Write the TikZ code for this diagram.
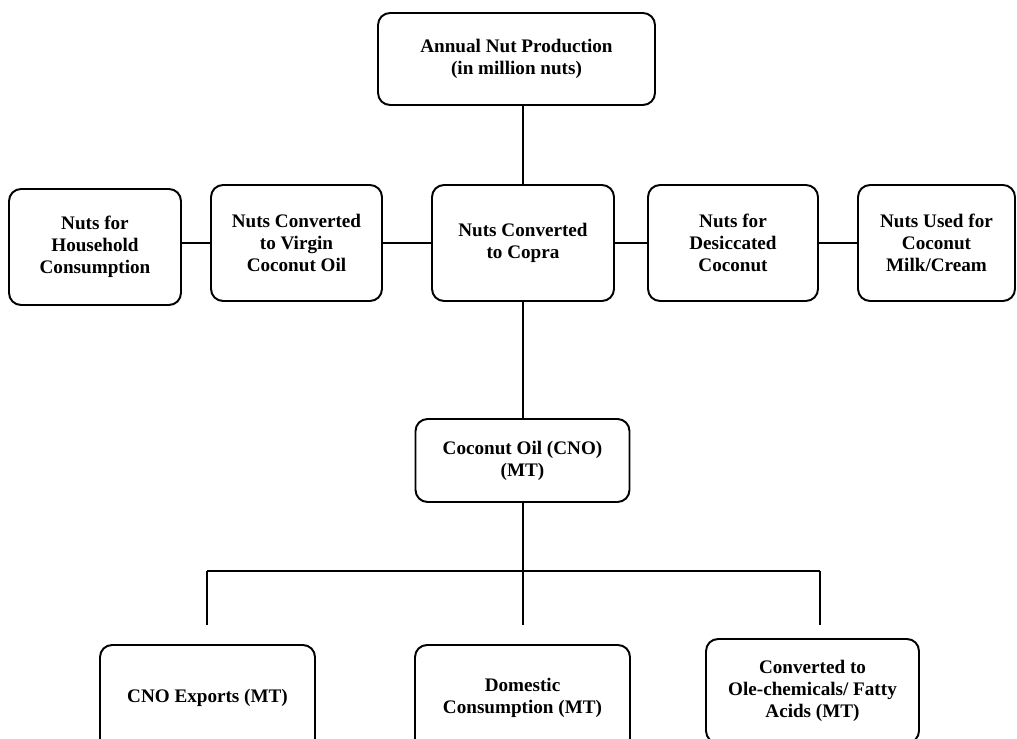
\documentclass[tikz,border=0pt]{standalone}
\usepackage{fontspec}
\setmainfont{Liberation Serif}
\usepackage{tikz}

\begin{document}
\begin{tikzpicture}[
    x=0.02cm, y=-0.02cm,
    box/.style={
        rectangle,
        rounded corners=0.24cm,
        draw=black,
        line width=1.1pt,
        fill=white,
        align=center,
        inner sep=0pt,
        font=\fontsize{10.9}{12.5}\selectfont\bfseries
    },
    rowbox/.style={
        box,
        minimum height=2.32cm
    },
    lowbox/.style={
        box,
        minimum width=4.3cm,
        minimum height=2.12cm
    },
    link/.style={line width=1pt, black}
]

\useasboundingbox (0,0) rectangle (1017,739);
\clip (0,0) rectangle (1017,739);

\node[box, minimum width=5.54cm, minimum height=1.84cm] (annual) at (516.5,59) {Annual Nut Production\\(in million nuts)};

\node[rowbox, minimum width=3.44cm] (household) at (95,247) {Nuts for\\Household\\Consumption};
\node[rowbox, minimum width=3.42cm] (virgin) at (296.5,243) {Nuts Converted\\to Virgin\\Coconut Oil};
\node[rowbox, minimum width=3.64cm] (copra) at (523,243) {Nuts Converted\\to Copra};
\node[rowbox, minimum width=3.40cm] (desiccated) at (733,243) {Nuts for\\Desiccated\\Coconut};
\node[rowbox, minimum width=3.14cm] (milk) at (936.5,243) {Nuts Used for\\Coconut\\Milk/Cream};

\node[box, minimum width=4.28cm, minimum height=1.66cm] (oil) at (522.5,460.5) {Coconut Oil (CNO)\\(MT)};

\node[lowbox] (exports) at (207.5,698) {CNO Exports (MT)};
\node[lowbox] (domestic) at (522.5,698) {Domestic\\Consumption (MT)};
\node[lowbox, minimum width=4.26cm, minimum height=2.08cm] (oleo) at (812.5,691) {Converted to\\Ole-chemicals/ Fatty\\Acids (MT)};

\coordinate (busL) at (207,571);
\coordinate (busM) at (523,571);
\coordinate (busR) at (820,571);
\coordinate (dropL) at (207,625);
\coordinate (dropM) at (523,625);
\coordinate (dropR) at (820,625);

\draw[link] (annual.south -| copra.north) -- (copra.north);
\draw[link] (household.east |- virgin.west) -- (virgin.west);
\draw[link] (virgin.east) -- (copra.west);
\draw[link] (copra.east) -- (desiccated.west);
\draw[link] (desiccated.east) -- (milk.west);
\draw[link] (copra.south) -- (oil.north -| copra.south);
\draw[link] (oil.south -| busM) -- (busM) -- (dropM);
\draw[link] (busL) -- (busR);
\draw[link] (busL) -- (dropL);
\draw[link] (busR) -- (dropR);

\end{tikzpicture}
\end{document}
